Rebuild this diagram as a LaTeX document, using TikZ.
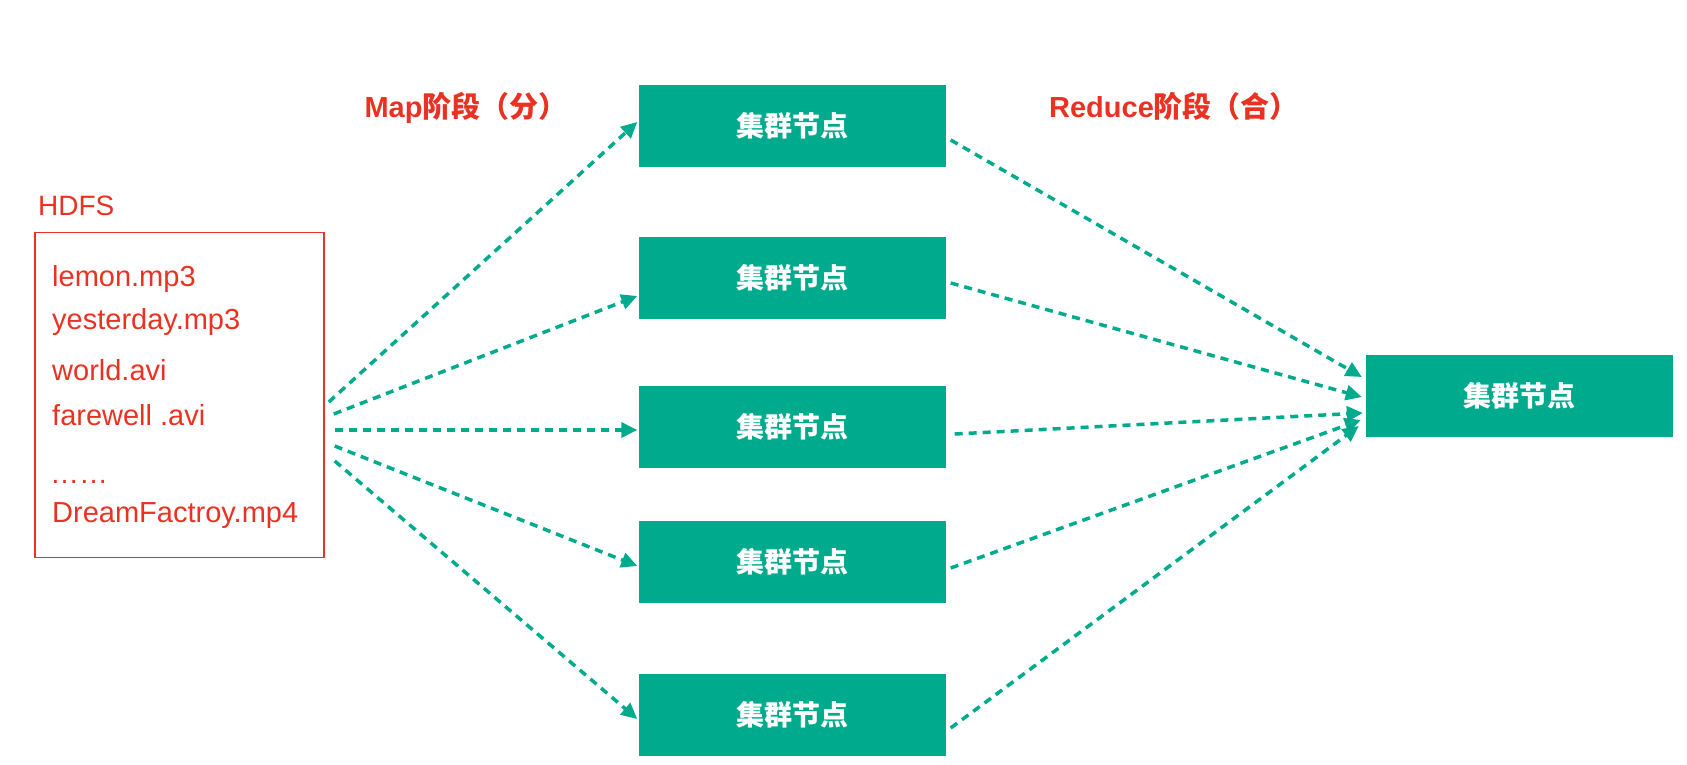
\documentclass[tikz,border=0pt]{standalone}
\usepackage{fontspec}
\setmainfont{Liberation Sans}
\newfontfamily\cjk{Noto Sans CJK SC}
\usetikzlibrary{arrows.meta}
\definecolor{hgreen}{RGB}{0,170,140}
\definecolor{hred}{RGB}{234,50,35}
\begin{document}
\begin{tikzpicture}[x=1pt,y=-1pt,
  cluster/.style={fill=hgreen, text=white, minimum width=307pt, minimum height=82pt, inner sep=0pt, font=\cjk\bfseries\fontsize{28}{34}\selectfont},
  filetext/.style={anchor=base west, text=hred, inner sep=0pt, font=\fontsize{29}{35}\selectfont},
  phase/.style={text=hred, inner sep=0pt, anchor=base, font=\bfseries\fontsize{29}{35}\selectfont},
  flow/.style={draw=hgreen, line width=3.5pt, dash pattern=on 8pt off 6pt, -{Triangle[length=16pt,width=15pt]}}]
\useasboundingbox (0,0) rectangle (1687,765);
% HDFS
\node[draw=hred, line width=1.5pt, minimum width=289pt, minimum height=325pt, inner sep=0pt] (hdfs) at (179.5,395) {};
\node[anchor=base west, text=hred, inner sep=0pt, font=\fontsize{28}{34}\selectfont] (hdfslabel) at (38,215) {HDFS};
\node[filetext] (f1) at (52,286) {lemon.mp3};
\node[filetext] (f2) at (52,329) {yesterday.mp3};
\node[filetext] (f3) at (52,380) {world.avi};
\node[filetext] (f4) at (52,425) {farewell .avi};
\node[filetext] (f5) at (50,483) {……};
\node[filetext] (f6) at (52,522) {DreamFactroy.mp4};
% phase labels
\node[phase] (map) at (466,118) {Map{\cjk 阶段（分）}};
\node[phase] (reduce) at (1174,118) {Reduce{\cjk 阶段（合）}};
% cluster nodes
\node[cluster] (g1) at (792,126) {集群节点};
\node[cluster] (g2) at (792,278) {集群节点};
\node[cluster] (g3) at (792,427) {集群节点};
\node[cluster] (g4) at (792,562) {集群节点};
\node[cluster] (g5) at (792,715) {集群节点};
\node[cluster] (r) at (1519.5,396) {集群节点};
% map arrows
\draw[flow] ([shift={(4,7)}]hdfs.east) -- ([shift={(-1,-4)}]g1.west);
\draw[flow] ([shift={(9,19)}]hdfs.east) -- ([shift={(-1,18)}]g2.west);
\draw[flow] ([shift={(10,35)}]hdfs.east) -- ([shift={(-1,3)}]g3.west);
\draw[flow] ([shift={(10,51)}]hdfs.east) -- ([shift={(-1,4)}]g4.west);
\draw[flow] ([shift={(10,66)}]hdfs.east) -- ([shift={(-1,4)}]g5.west);
% reduce arrows
\draw[flow] ([shift={(5,14)}]g1.east) -- ([shift={(-4,-19)}]r.west);
\draw[flow] ([shift={(5,5)}]g2.east) -- ([shift={(-4,1)}]r.west);
\draw[flow] ([shift={(9,7)}]g3.east) -- ([shift={(-3,17)}]r.west);
\draw[flow] ([shift={(5,6)}]g4.east) -- ([shift={(-5,24)}]r.west);
\draw[flow] ([shift={(5,13)}]g5.east) -- ([shift={(-7,30)}]r.west);
\end{tikzpicture}
\end{document}
